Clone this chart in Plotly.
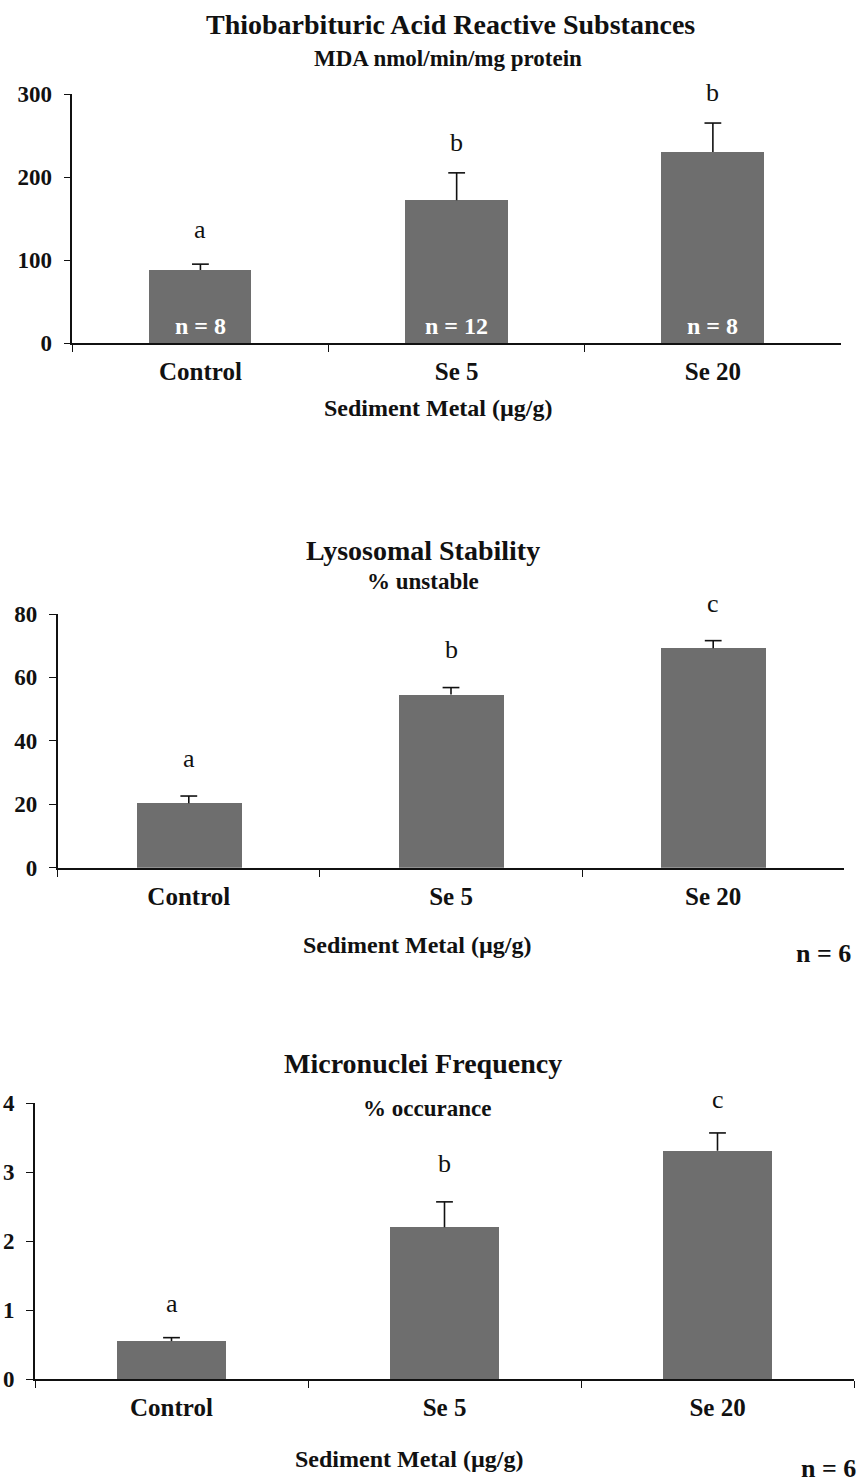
import plotly.graph_objects as go

# ---- data -------------------------------------------------------------
categories = ["Control", "Se 5", "Se 20"]

tbars_mean = [88, 172, 230]
tbars_err = [7, 33, 35]
tbars_letters = ["a", "b", "b"]
tbars_letter_y = [137, 241, 302]
tbars_n = ["n = 8", "n = 12", "n = 8"]
tbars_n_y = [20, 20, 20]
tbars_ticks = [0, 100, 200, 300]

lyso_mean = [20.3, 54.6, 69.2]
lyso_err = [2.3, 2.2, 2.4]
lyso_letters = ["a", "b", "c"]
lyso_letter_y = [34.3, 68.8, 83.2]
lyso_ticks = [0, 20, 40, 60, 80]

micro_mean = [0.55, 2.20, 3.31]
micro_err = [0.05, 0.37, 0.26]
micro_letters = ["a", "b", "c"]
micro_letter_y = [1.10, 3.13, 4.05]
micro_ticks = [0, 1, 2, 3, 4]

# ---- page geometry (pixels) --------------------------------------------
W, H = 861, 1482
SERIF = "Liberation Serif, Times New Roman, serif"
BAR_COLOR = "#6e6e6e"
INK = "#111111"


def px_x(x):
    return x / W


def px_y(y):
    return 1 - y / H


panels = [
    dict(mean=tbars_mean, err=tbars_err, letters=tbars_letters,
         letter_y=tbars_letter_y, ticks=tbars_ticks, ymax=300,
         xdom=(72.3, 841), ydom=(343, 94),
         title="Thiobarbituric Acid Reactive Substances", title_xy=(450, 25),
         sub="MDA nmol/min/mg protein", sub_xy=(448, 58),
         axis_title_xy=(438, 408), n_note=None),
    dict(mean=lyso_mean, err=lyso_err, letters=lyso_letters,
         letter_y=lyso_letter_y, ticks=lyso_ticks, ymax=80,
         xdom=(57.7, 844.3), ydom=(867.7, 614),
         title="Lysosomal Stability", title_xy=(423, 550),
         sub="% unstable", sub_xy=(423, 581),
         axis_title_xy=(417, 945), n_note=(823, 953)),
    dict(mean=micro_mean, err=micro_err, letters=micro_letters,
         letter_y=micro_letter_y, ticks=micro_ticks, ymax=4,
         xdom=(35, 854), ydom=(1379, 1103.3),
         title="Micronuclei Frequency", title_xy=(423, 1063),
         sub="% occurance", sub_xy=(427, 1108),
         axis_title_xy=(409, 1459), n_note=(828, 1468)),
]

fig = go.Figure()
annotations = []

for i, p in enumerate(panels, start=1):
    xa = "x" if i == 1 else f"x{i}"
    ya = "y" if i == 1 else f"y{i}"

    # bars
    fig.add_trace(go.Bar(
        x=categories, y=p["mean"], width=0.40,
        marker=dict(color=BAR_COLOR, line=dict(width=0)),
        xaxis=xa, yaxis=ya, showlegend=False, hoverinfo="skip",
    ))

    # upper error bars: stem from bar top, cap at mean + err
    tops = [m + e for m, e in zip(p["mean"], p["err"])]
    fig.add_trace(go.Scatter(
        x=categories, y=tops, mode="markers",
        marker=dict(symbol="line-ew", size=12,
                    line=dict(width=1.6, color=INK)),
        error_y=dict(type="data", symmetric=False,
                     array=[0] * len(tops), arrayminus=p["err"],
                     width=0, thickness=1.6, color=INK),
        cliponaxis=False, xaxis=xa, yaxis=ya,
        showlegend=False, hoverinfo="skip",
    ))

    axis_key = "" if i == 1 else str(i)
    fig.update_layout(**{
        f"xaxis{axis_key}": dict(
            domain=[px_x(p["xdom"][0]), px_x(p["xdom"][1])],
            type="category", categoryorder="array", categoryarray=categories,
            range=[-0.5, 2.5], anchor=ya, automargin=False,
            showline=True, linecolor=INK, linewidth=1.6,
            ticks="outside", tickson="boundaries", ticklen=7,
            tickwidth=1.4, tickcolor=INK,
            showgrid=False, zeroline=False, ticklabelstandoff=5,
            tickfont=dict(family=SERIF, size=25, color=INK, weight="bold"),
        ),
        f"yaxis{axis_key}": dict(
            domain=[px_y(p["ydom"][0]), px_y(p["ydom"][1])],
            range=[0, p["ymax"]], anchor=xa, automargin=False,
            tickvals=p["ticks"],
            showline=True, linecolor=INK, linewidth=1.6,
            ticks="outside", ticklen=7, tickwidth=1.4, tickcolor=INK,
            showgrid=False, zeroline=False, ticklabelstandoff=7,
            tickfont=dict(family=SERIF, size=23, color=INK, weight="bold"),
        ),
    })

    # significance letters (placed relative to the axis domain so that
    # letters above the top tick are still drawn)
    for cat, lab, ly in zip(categories, p["letters"], p["letter_y"]):
        annotations.append(dict(
            x=cat, y=ly / p["ymax"], xref=xa, yref=f"{ya} domain",
            text=lab, showarrow=False,
            xanchor="center", yanchor="middle",
            font=dict(family=SERIF, size=26, color=INK),
        ))

    # panel title, unit line and axis title
    annotations.append(dict(
        x=px_x(p["title_xy"][0]), y=px_y(p["title_xy"][1]),
        xref="paper", yref="paper", text=p["title"], showarrow=False,
        xanchor="center", yanchor="middle",
        font=dict(family=SERIF, size=28, color=INK, weight="bold"),
    ))
    annotations.append(dict(
        x=px_x(p["sub_xy"][0]), y=px_y(p["sub_xy"][1]),
        xref="paper", yref="paper", text=p["sub"], showarrow=False,
        xanchor="center", yanchor="middle",
        font=dict(family=SERIF, size=23, color=INK, weight="bold"),
    ))
    annotations.append(dict(
        x=px_x(p["axis_title_xy"][0]), y=px_y(p["axis_title_xy"][1]),
        xref="paper", yref="paper", text="Sediment Metal (µg/g)",
        showarrow=False, xanchor="center", yanchor="middle",
        font=dict(family=SERIF, size=24, color=INK, weight="bold"),
    ))
    if p["n_note"] is not None:
        annotations.append(dict(
            x=px_x(p["n_note"][0]), y=px_y(p["n_note"][1]),
            xref="paper", yref="paper", text="n = 6", showarrow=False,
            xanchor="center", yanchor="middle",
            font=dict(family=SERIF, size=26, color=INK, weight="bold"),
        ))

# sample sizes written inside the first panel's bars
for cat, lab, ny in zip(categories, tbars_n, tbars_n_y):
    annotations.append(dict(
        x=cat, y=ny, xref="x", yref="y", text=lab, showarrow=False,
        xanchor="center", yanchor="middle",
        font=dict(family=SERIF, size=24, color="white", weight="bold"),
    ))

fig.update_layout(
    width=W, height=H,
    margin=dict(l=0, r=0, t=0, b=0, autoexpand=False),
    paper_bgcolor="white", plot_bgcolor="white",
    bargap=0, annotations=annotations, showlegend=False,
)

fig.write_html("out.html")
